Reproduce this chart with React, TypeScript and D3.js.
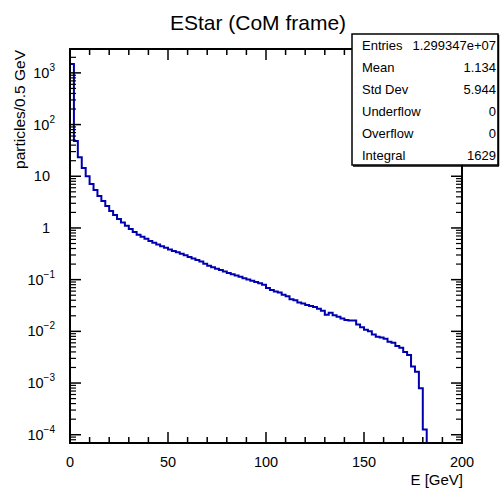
import React from "react";
import * as d3 from "d3";

// 2 GeV bins from 0 to 182 GeV
const binWidth = 2;
const counts = [
  1480, 48, 23.4, 14.5, 10.0, 7.08, 5.43, 4.17, 3.31, 2.66,
  2.14, 1.78, 1.49, 1.28, 1.10, 0.955, 0.832, 0.741, 0.676, 0.617,
  0.562, 0.519, 0.479, 0.442, 0.412, 0.385, 0.359, 0.339, 0.316, 0.295,
  0.275, 0.257, 0.240, 0.224, 0.204, 0.186, 0.174, 0.162, 0.153, 0.143,
  0.135, 0.127, 0.120, 0.1135, 0.107, 0.101, 0.0955, 0.0902, 0.0851, 0.0794,
  0.0692, 0.0631, 0.0589, 0.0562, 0.0513, 0.0479, 0.0417, 0.0398, 0.0363, 0.0347,
  0.0324, 0.0309, 0.0295, 0.0275, 0.0251, 0.0209, 0.0229, 0.0204, 0.0191, 0.0178,
  0.0166, 0.0162, 0.0162, 0.0135, 0.0120, 0.0107, 0.0100, 0.0087, 0.0079, 0.0076,
  0.0072, 0.0063, 0.0060, 0.0052, 0.0048, 0.0040, 0.0035, 0.0021, 0.00166, 0.00079,
  0.000126,
];

const xTicks = [0, 50, 100, 150, 200];
const yExponents = [-4, -3, -2, -1, 0, 1, 2, 3];
const statLabels = ["Entries", "Mean", "Std Dev", "Underflow", "Overflow", "Integral"];
const statValues = ["1.299347e+07", "1.134", "5.944", "0", "0", "1629"];

const font = "'Liberation Sans', Arial, Helvetica, sans-serif";

export default function App() {
  const W = 500;
  const H = 490;
  const left = 70, right = 462, top = 49, bottom = 443;

  const x = d3.scaleLinear().domain([0, 200]).range([left, right]);
  const y = d3.scaleLog().domain([Math.pow(10, -4.16), Math.pow(10, 3.462)]).range([bottom, top]);

  // histogram outline
  const pts: [number, number][] = [[x(0), bottom]];
  counts.forEach((v, i) => {
    pts.push([x(i * binWidth), y(v)]);
    pts.push([x((i + 1) * binWidth), y(v)]);
  });
  pts.push([x(counts.length * binWidth), bottom]);
  const path = d3.line()(pts) || "";

  const xMinor = d3.range(0, 201, 10).filter((v) => v % 50 !== 0);
  const yMinor: number[] = [];
  const [d0, d1] = y.domain();
  for (let e = -5; e <= 3; e++) {
    for (let k = 2; k <= 9; k++) {
      const v = k * Math.pow(10, e);
      if (v > d0 && v < d1) yMinor.push(v);
    }
  }

  const majorLen = 11;
  const minorLen = 6;
  const supLabel = (e: number) => {
    if (e === 0) return "1";
    if (e === 1) return "10";
    return null;
  };

  return (
    <div style={{ position: "fixed", left: 0, top: 0 }}>
      <svg width={W} height={H} style={{ display: "block", background: "#fff" }} fontFamily={font}>
        <defs>
          <clipPath id="frame">
            <rect x={left} y={top} width={right - left} height={bottom - top} />
          </clipPath>
        </defs>

        <text x={258} y={30} textAnchor="middle" fontSize={21}>
          EStar (CoM frame)
        </text>

        <path d={path} fill="none" stroke="#0000b0" strokeWidth={2} clipPath="url(#frame)" />

        {/* frame */}
        <rect x={left} y={top} width={right - left} height={bottom - top} fill="none" stroke="#000" strokeWidth={2} />

        {/* x ticks, bottom and top */}
        {xTicks.map((t) => (
          <g key={"xm" + t}>
            <line x1={x(t)} x2={x(t)} y1={bottom} y2={bottom - majorLen} stroke="#000" strokeWidth={1.5} />
            <line x1={x(t)} x2={x(t)} y1={top} y2={top + majorLen} stroke="#000" strokeWidth={1.5} />
            <text x={x(t)} y={467} textAnchor="middle" fontSize={14.5}>
              {t}
            </text>
          </g>
        ))}
        {xMinor.map((t) => (
          <g key={"xn" + t}>
            <line x1={x(t)} x2={x(t)} y1={bottom} y2={bottom - minorLen} stroke="#000" strokeWidth={1.5} />
            <line x1={x(t)} x2={x(t)} y1={top} y2={top + minorLen} stroke="#000" strokeWidth={1.5} />
          </g>
        ))}

        {/* y ticks, left and right */}
        {yExponents.map((e) => {
          const v = Math.pow(10, e);
          const plain = supLabel(e);
          return (
            <g key={"ym" + e}>
              <line x1={left} x2={left + majorLen} y1={y(v)} y2={y(v)} stroke="#000" strokeWidth={1.5} />
              <line x1={right} x2={right - majorLen} y1={y(v)} y2={y(v)} stroke="#000" strokeWidth={1.5} />
              {plain ? (
                <text x={50} y={y(v) + 5} textAnchor="end" fontSize={14.5}>
                  {plain}
                </text>
              ) : (
                <text x={55} y={y(v) + 5} textAnchor="end" fontSize={14.5}>
                  10
                  <tspan dy={-7} fontSize={10}>
                    {e < 0 ? "\u2212" + Math.abs(e) : String(e)}
                  </tspan>
                </text>
              )}
            </g>
          );
        })}
        {yMinor.map((v, i) => (
          <g key={"yn" + i}>
            <line x1={left} x2={left + minorLen} y1={y(v)} y2={y(v)} stroke="#000" strokeWidth={1.2} />
            <line x1={right} x2={right - minorLen} y1={y(v)} y2={y(v)} stroke="#000" strokeWidth={1.2} />
          </g>
        ))}

        {/* axis titles */}
        <text x={463} y={485} textAnchor="end" fontSize={15}>
          E [GeV]
        </text>
        <text transform="translate(25,50) rotate(-90)" textAnchor="end" fontSize={15.5}>
          particles/0.5 GeV
        </text>

        {/* stats box */}
        <rect x={352} y={34} width={146} height={131} fill="#fff" stroke="#000" strokeWidth={1.5} />
        <line x1={353} x2={499} y1={166} y2={166} stroke="#000" strokeWidth={1.5} />
        <line x1={498.5} x2={498.5} y1={35} y2={166} stroke="#000" strokeWidth={1.5} />
        {statLabels.map((s, i) => (
          <g key={s}>
            <text x={362} y={50 + i * 22} fontSize={13}>
              {s}
            </text>
            <text x={496} y={50 + i * 22} textAnchor="end" fontSize={13}>
              {statValues[i]}
            </text>
          </g>
        ))}
      </svg>
    </div>
  );
}
